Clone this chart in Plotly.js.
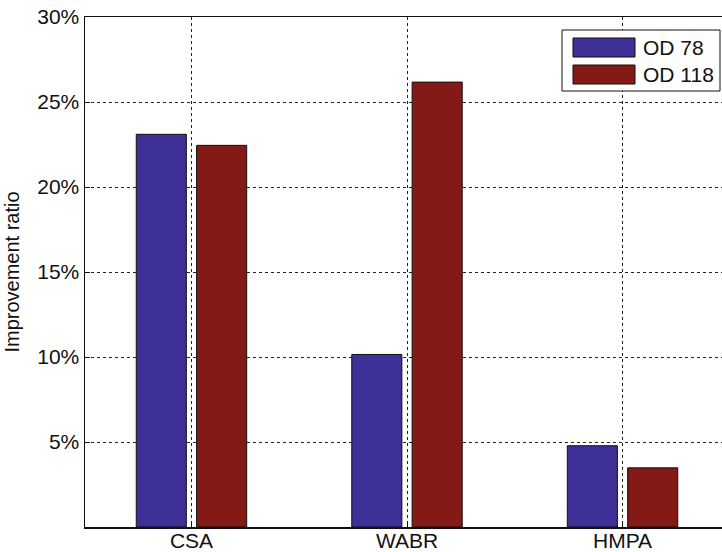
<!DOCTYPE html>
<html>
<head>
<meta charset="utf-8">
<script src="https://cdn.plot.ly/plotly-3.0.1.min.js"></script>
<style>
html,body{margin:0;padding:0;overflow:hidden;background:#fff;width:722px;height:552px;}
#chart{width:735px;height:552px;}
</style>
</head>
<body>
<div id="chart"></div>
<script>
// Data
const categories = ['CSA', 'WABR', 'HMPA'];
const od78 = [23.1, 10.15, 4.78];
const od118 = [22.45, 26.17, 3.48];
const seriesNames = ['OD 78', 'OD 118'];
const yTickVals = [5, 10, 15, 20, 25, 30];
const yTickText = yTickVals.map(v => v + '%');

const colors = ['#3d3097', '#831a15'];

// Geometry helpers (pixel -> paper) for the hand-drawn legend
const W = 735, H = 552;
const M = {l: 85, r: 6, t: 17, b: 25};
const PW = W - M.l - M.r, PH = H - M.t - M.b;
const px = x => (x - M.l) / PW;
const py = y => (H - M.b - y) / PH;

const traces = [od78, od118].map((vals, i) => ({
  type: 'bar',
  name: seriesNames[i],
  x: categories,
  y: vals,
  marker: {color: colors[i], line: {color: '#111', width: 1}},
  showlegend: false,
  hoverinfo: 'skip'
}));

const font = {family: 'Liberation Sans, Arial, sans-serif', size: 21, color: '#111'};

const shapes = [
  {type: 'rect', xref: 'paper', yref: 'paper', x0: px(562), x1: px(720), y0: py(91), y1: py(30),
   fillcolor: '#fff', line: {color: '#111', width: 1}},
  {type: 'rect', xref: 'paper', yref: 'paper', x0: px(573), x1: px(635), y0: py(57), y1: py(38),
   fillcolor: colors[0], line: {color: '#111', width: 1}},
  {type: 'rect', xref: 'paper', yref: 'paper', x0: px(573), x1: px(635), y0: py(84), y1: py(65),
   fillcolor: colors[1], line: {color: '#111', width: 1}}
];
const annotations = seriesNames.map((n, i) => ({
  xref: 'paper', yref: 'paper', x: px(641), y: py(i === 0 ? 47.5 : 74.5),
  xanchor: 'left', yanchor: 'middle', showarrow: false, text: n,
  font: font
}));

const layout = {
  width: W, height: H,
  margin: M,
  paper_bgcolor: '#fff', plot_bgcolor: '#fff',
  font: font,
  barmode: 'group',
  bargap: 0.44,
  bargroupgap: 0.17,
  showlegend: false,
  xaxis: {
    type: 'category',
    range: [-0.494, 2.494],
    showline: true, linecolor: '#111', linewidth: 1.5, mirror: true,
    showgrid: true, gridcolor: '#222', gridwidth: 1, griddash: '3px,3px',
    ticks: 'inside', ticklen: 5, tickcolor: '#111',
    tickfont: font,
    ticklabelstandoff: -6,
    zeroline: false
  },
  yaxis: {
    range: [0, 30],
    tickmode: 'array',
    tickvals: yTickVals,
    ticktext: yTickText,
    showline: true, linecolor: '#111', linewidth: 1.5, mirror: true,
    showgrid: true, gridcolor: '#222', gridwidth: 1, griddash: '3px,3px',
    ticks: 'inside', ticklen: 5, tickcolor: '#111',
    tickfont: font,
    zeroline: false,
    title: {text: 'Improvement ratio', font: {family: font.family, size: 20, color: '#111'}, standoff: 12}
  },
  shapes: shapes,
  annotations: annotations
};

Plotly.newPlot('chart', traces, layout, {displayModeBar: false, staticPlot: true});
</script>
</body>
</html>
